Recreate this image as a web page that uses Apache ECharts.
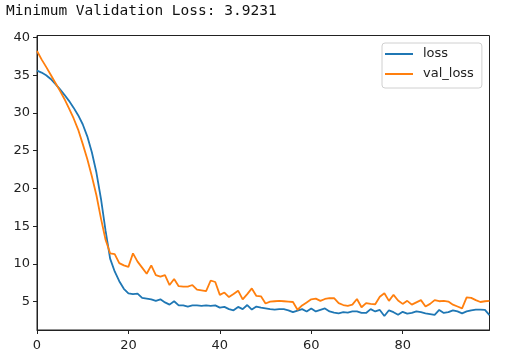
<!DOCTYPE html>
<html>
<head>
<meta charset="utf-8">
<script src="https://cdn.jsdelivr.net/npm/echarts@6/dist/echarts.min.js"></script>
<style>
html,body{margin:0;padding:0;background:#fff;}
#chart{width:507px;height:363px;}
</style>
</head>
<body>
<div id="chart"></div>
<script>
const titleText = "Minimum Validation Loss: 3.9231";
const seriesNames = ["loss", "val_loss"];
const xTicks = [0, 20, 40, 60, 80];
const yTicks = [5, 10, 15, 20, 25, 30, 35, 40];

const loss = [
  35.6, 35.35, 35.0, 34.5, 33.85, 33.15, 32.4, 31.6, 30.7, 29.7,
  28.5, 26.9, 24.8, 22.1, 18.6, 14.4, 10.7, 9.0, 7.7, 6.7,
  6.1, 6.0, 6.05, 5.5, 5.4, 5.3, 5.1, 5.3, 4.9, 4.6,
  5.05, 4.5, 4.5, 4.35, 4.5, 4.5, 4.45, 4.5, 4.45, 4.5,
  4.2, 4.3, 4.0, 3.85, 4.3, 4.0, 4.55, 3.95, 4.35, 4.2,
  4.1, 4.0, 3.95, 4.0, 4.0, 3.85, 3.6, 3.8, 4.0, 3.7,
  4.1, 3.7, 3.9, 4.1, 3.7, 3.55, 3.45, 3.6, 3.55, 3.7,
  3.7, 3.5, 3.5, 4.0, 3.7, 3.9, 3.1, 3.85, 3.6, 3.25,
  3.65, 3.4, 3.5, 3.7, 3.6, 3.45, 3.35, 3.25, 3.9, 3.5,
  3.6, 3.85, 3.7, 3.45, 3.7, 3.85, 3.95, 3.95, 3.9, 3.2
];
const valLoss = [
  38.2, 37.1, 36.1, 35.05, 34.0, 32.95, 31.85, 30.6, 29.3, 27.8,
  25.9, 23.9, 21.6, 19.1, 16.0, 13.2, 11.4, 11.3, 10.1, 9.8,
  9.6, 11.4, 10.3, 9.5, 8.7, 9.8, 8.5, 8.3, 8.5, 7.2,
  8.0, 7.05, 7.0, 7.0, 7.2, 6.6, 6.5, 6.4, 7.8, 7.6,
  5.9, 6.2, 5.6, 6.0, 6.45, 5.3, 6.0, 6.75, 5.75, 5.7,
  4.75, 5.0, 5.05, 5.1, 5.05, 5.0, 4.95, 3.9231, 4.5, 4.9,
  5.3, 5.4, 5.1, 5.35, 5.45, 5.45, 4.8, 4.55, 4.45, 4.6,
  5.35, 4.25, 4.8, 4.7, 4.65, 5.65, 6.1, 5.1, 5.9, 5.15,
  4.7, 5.1, 4.6, 4.9, 5.2, 4.35, 4.7, 5.2, 5.05, 5.1,
  5.0, 4.6, 4.35, 4.1, 5.55, 5.5, 5.2, 4.95, 5.05, 5.1
];

const pairs = arr => arr.map((v, i) => [i, v]);
const tickFont = 'DejaVu Sans';

const chart = echarts.init(document.getElementById('chart'), null, {renderer: 'canvas'});
chart.setOption({
  animation: false,
  backgroundColor: '#fff',
  graphic: [{
    type: 'text',
    left: 6,
    top: 4,
    style: {
      text: titleText,
      font: '14.5px "DejaVu Sans Mono"',
      fill: '#111'
    }
  }],
  grid: {
    left: 37, right: 17.5, top: 35.5, bottom: 33,
    show: true, borderColor: '#222', borderWidth: 1, backgroundColor: 'transparent'
  },
  legend: {
    data: seriesNames.map(n => ({name: n, icon: 'rect'})),
    orient: 'vertical',
    left: 382,
    top: 43,
    itemWidth: 28,
    itemHeight: 2,
    itemGap: 6,
    padding: [4, 8, 7, 3],
    borderColor: '#d0d0d0',
    borderWidth: 1,
    borderRadius: 3,
    backgroundColor: 'rgba(255,255,255,0.8)',
    textStyle: {fontFamily: tickFont, fontSize: 13, color: '#222', padding: [0, 0, 0, 5], lineHeight: 14}
  },
  xAxis: {
    type: 'value',
    min: 0, max: 99,
    axisLine: {show: true, lineStyle: {color: '#222'}},
    axisTick: {show: true, inside: false, length: 4, lineStyle: {color: '#222'}, customValues: xTicks},
    axisLabel: {customValues: xTicks, fontFamily: tickFont, fontSize: 13, color: '#222', margin: 9},
    splitLine: {show: false}
  },
  yAxis: {
    type: 'value',
    min: 1.24, max: 40.26,
    axisLine: {show: true, lineStyle: {color: '#222'}},
    axisTick: {show: true, inside: false, length: 4, lineStyle: {color: '#222'}, customValues: yTicks},
    axisLabel: {customValues: yTicks, fontFamily: tickFont, fontSize: 13, color: '#222', margin: 7},
    splitLine: {show: false}
  },
  series: [
    {name: seriesNames[0], type: 'line', data: pairs(loss), symbol: 'none', color: '#1f77b4', lineStyle: {width: 1.8, color: '#1f77b4'}},
    {name: seriesNames[1], type: 'line', data: pairs(valLoss), symbol: 'none', color: '#ff7f0e', lineStyle: {width: 1.8, color: '#ff7f0e'}}
  ]
});
</script>
</body>
</html>
